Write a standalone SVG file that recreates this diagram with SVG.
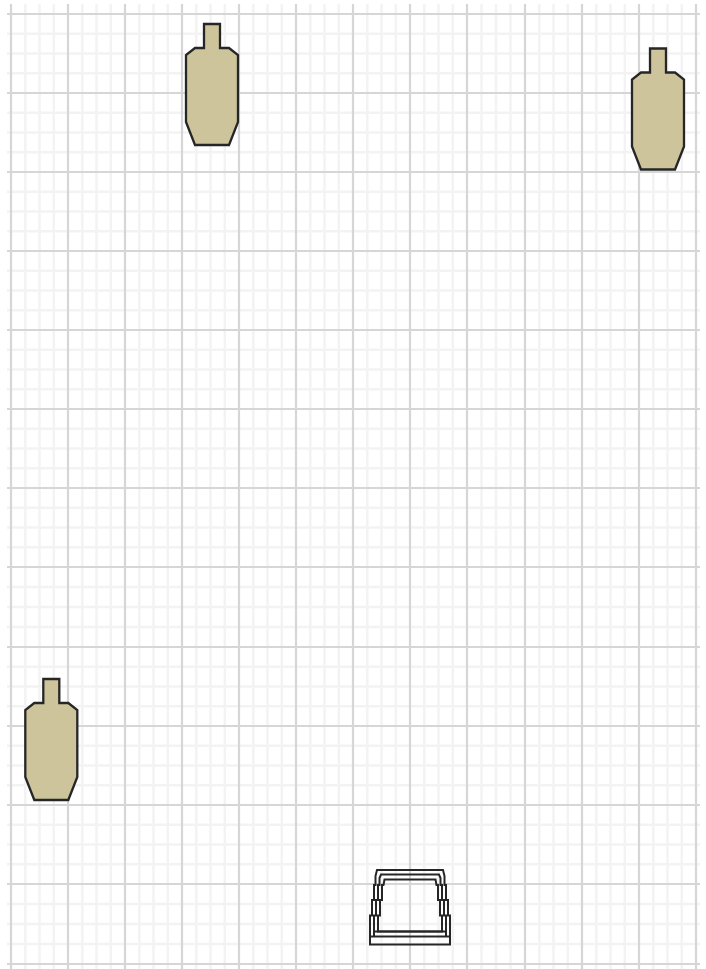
<svg xmlns="http://www.w3.org/2000/svg" width="706" height="969" viewBox="0 0 706 969">
<defs>
<style>
.minor{stroke:#f3f3f3;stroke-width:2.500;fill:none}
.major{stroke:#d6d6d6;stroke-width:2.200;fill:none}
.target{fill:#cdc49c;stroke:#262626;stroke-width:2.300}
.frame{fill:none;stroke:#262626;stroke-width:2}
</style>
<path id="t" class="target" d="M204 24H220V48H229L238 55V122L229 145H195L186 122V55L195 48H204Z"/>
</defs>
<rect width="706" height="969" fill="#fff"/>
<g id="grid-minor" class="minor">
<path d="M25.300 4V969M39.500 4V969M53.800 4V969M82.300 4V969M96.500 4V969M110.800 4V969M139.300 4V969M153.500 4V969M167.800 4V969M196.300 4V969M210.500 4V969M224.800 4V969M253.300 4V969M267.500 4V969M281.800 4V969M310.300 4V969M324.500 4V969M338.800 4V969M367.300 4V969M381.500 4V969M395.800 4V969M424.300 4V969M438.500 4V969M452.800 4V969M481.500 4V969M496 4V969M510.500 4V969M539.300 4V969M553.500 4V969M567.800 4V969M596.300 4V969M610.500 4V969M624.800 4V969M653.300 4V969M667.500 4V969M681.800 4V969"/>
<path d="M7 33.800H700M7 53.500H700M7 73.300H700M7 112.800H700M7 132.500H700M7 152.300H700M7 191.800H700M7 211.500H700M7 231.300H700M7 270.800H700M7 290.500H700M7 310.300H700M7 349.800H700M7 369.500H700M7 389.300H700M7 428.800H700M7 448.500H700M7 468.300H700M7 507.800H700M7 527.500H700M7 547.300H700M7 587H700M7 607H700M7 627H700M7 666.800H700M7 686.500H700M7 706.300H700M7 745.800H700M7 765.500H700M7 785.300H700M7 824.800H700M7 844.500H700M7 864.300H700M7 904H700M7 924H700M7 944H700"/>
</g>
<g id="grid-major" class="major">
<path d="M11 4V969M68 4V969M125 4V969M182 4V969M239 4V969M296 4V969M353 4V969M410 4V969M467 4V969M525 4V969M582 4V969M639 4V969M696 4V969"/>
<path d="M7 14H700M7 93H700M7 172H700M7 251H700M7 330H700M7 409H700M7 488H700M7 567H700M7 647H700M7 726H700M7 805H700M7 884H700M7 964H700"/>
</g>
<g id="connectors"></g>
<g id="target-1"><use href="#t"/></g>
<g id="target-2"><use href="#t" x="446" y="24.500"/></g>
<g id="target-3"><use href="#t" x="-160.700" y="655"/></g>
<g id="box">
<rect x="370" y="936.500" width="80" height="8" class="frame"/>
<path class="frame" d="M370 936V915.500H372V900H374V885H375.500V876L377 870H443L444.500 876V885H446V900H448V915.500H450V936"/>
<path class="frame" d="M374 936V915.500H376V900H378V885H379.500V878L381 874.500H439L440.500 878V885H442V900H444V915.500H446V936"/>
<path class="frame" d="M378 931.500V915.500H380V900H382V885H383.500L384.500 879.500H435.500L436.500 885H438V900H440V915.500H442V931.500Z"/>
<path class="frame" d="M374 931.500H446"/>
</g>
</svg>
